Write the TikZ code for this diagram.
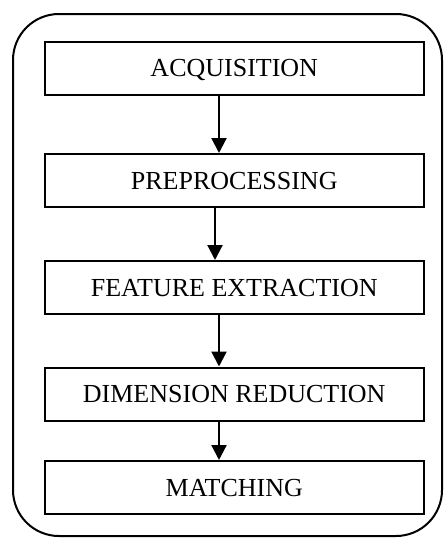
\documentclass[tikz,border=0pt]{standalone}
\usepackage{fontspec}
\setmainfont{Liberation Serif}
\usetikzlibrary{arrows.meta}
\begin{document}
\begin{tikzpicture}[x=1pt,y=-1pt,
  stage/.style={draw,line width=2pt,minimum width=378.5pt,minimum height=53pt,
    inner sep=0pt,text height=17.2pt,text depth=0pt,font=\fontsize{26}{30}\selectfont},
  flow/.style={line width=2.2pt,-{Triangle[length=15pt,width=15pt]}}]
\useasboundingbox (0,0) rectangle (444,538);
% enclosing frame
\draw[line width=2pt,rounded corners=46pt] (13,14) rectangle (442,536);
% pipeline stages
\node[stage] (acq) at (234.25,68) {ACQUISITION};
\node[stage] (pre) at (234.25,180.5) {PREPROCESSING};
\node[stage] (fea) at (234.25,287.5) {FEATURE EXTRACTION};
\node[stage] (dim) at (234.25,394) {DIMENSION REDUCTION};
\node[stage] (mat) at (234.25,487.5) {MATCHING};
% connectors
\draw[flow] (acq.south -| 219,0) -- (pre.north -| 219,0);
\draw[flow] (pre.south -| 215,0) -- (fea.north -| 215,0);
\draw[flow] (fea.south -| 219,0) -- (dim.north -| 219,0);
\draw[flow] (dim.south -| 219,0) -- (mat.north -| 219,0);
\end{tikzpicture}
\end{document}
